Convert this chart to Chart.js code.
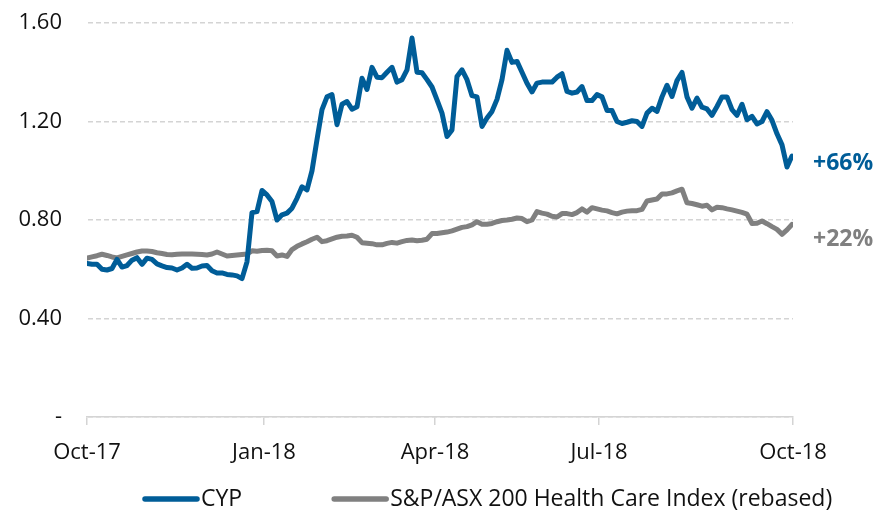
<!DOCTYPE html>
<html>
<head>
<meta charset="utf-8">
<script src="https://cdn.jsdelivr.net/npm/chart.js@4.4.1/dist/chart.umd.min.js"></script>
<style>
  html, body { margin: 0; padding: 0; background: #fff; }
  #wrap { width: 881px; height: 511px; position: relative; }
</style>
</head>
<body>
<div id="wrap"><canvas id="chart"></canvas></div>
<script>
// tick labels and where they sit on the sample index axis
const tickLabels = ["Oct-17", "Jan-18", "Apr-18", "Jul-18", "Oct-18"];
const tickIndex = [0, 35.4, 69.6, 102.4, 141.2];

// CYP share price
const cyp = [
  0.624, 0.62, 0.62, 0.60, 0.597, 0.603, 0.64, 0.609, 0.615, 0.637,
  0.647, 0.62, 0.645, 0.64, 0.622, 0.614, 0.607, 0.605, 0.597, 0.605,
  0.62, 0.604, 0.605, 0.613, 0.615, 0.594, 0.585, 0.585, 0.579, 0.577,
  0.573, 0.562, 0.63, 0.83, 0.834, 0.92, 0.902, 0.875, 0.80, 0.821,
  0.828, 0.848, 0.888, 0.935, 0.922, 1.0, 1.126, 1.248, 1.30, 1.309,
  1.187, 1.27, 1.281, 1.25, 1.26, 1.376, 1.33, 1.42, 1.38, 1.378,
  1.40, 1.42, 1.36, 1.37, 1.41, 1.539, 1.40, 1.398, 1.37, 1.34,
  1.288, 1.234, 1.139, 1.166, 1.383, 1.41, 1.37, 1.305, 1.30, 1.18,
  1.214, 1.241, 1.29, 1.37, 1.489, 1.44, 1.444, 1.40, 1.355, 1.32,
  1.356, 1.36, 1.36, 1.36, 1.38, 1.394, 1.322, 1.315, 1.32, 1.342,
  1.285, 1.285, 1.309, 1.30, 1.245, 1.245, 1.20, 1.192, 1.197, 1.203,
  1.20, 1.18, 1.234, 1.254, 1.241, 1.30, 1.347, 1.302, 1.366, 1.399,
  1.30, 1.254, 1.295, 1.258, 1.251, 1.225, 1.261, 1.30, 1.30, 1.248,
  1.225, 1.27, 1.207, 1.221, 1.19, 1.20, 1.24, 1.205, 1.15, 1.105,
  1.015, 1.06
];

// S&P/ASX 200 Health Care Index, rebased to CYP
const hcIndex = [
  0.645, 0.65, 0.655, 0.661, 0.656, 0.65, 0.646, 0.652, 0.658, 0.664,
  0.67, 0.674, 0.674, 0.672, 0.667, 0.664, 0.66, 0.659, 0.661, 0.662,
  0.662, 0.662, 0.661, 0.66, 0.658, 0.662, 0.67, 0.662, 0.654, 0.656,
  0.658, 0.66, 0.662, 0.675, 0.673, 0.676, 0.677, 0.675, 0.654, 0.658,
  0.652, 0.68, 0.693, 0.703, 0.712, 0.722, 0.73, 0.712, 0.716, 0.723,
  0.73, 0.734, 0.735, 0.738, 0.73, 0.708, 0.706, 0.704, 0.699, 0.699,
  0.705, 0.709, 0.706, 0.712, 0.717, 0.719, 0.716, 0.718, 0.722, 0.745,
  0.745, 0.748, 0.751, 0.756, 0.763, 0.77, 0.773, 0.78, 0.793, 0.783,
  0.783, 0.786, 0.793, 0.798, 0.80, 0.803, 0.808, 0.806, 0.793, 0.80,
  0.834, 0.828, 0.824, 0.815, 0.812, 0.826, 0.826, 0.822, 0.83, 0.845,
  0.832, 0.85, 0.845, 0.84, 0.837, 0.83, 0.825, 0.832, 0.836, 0.838,
  0.838, 0.843, 0.877, 0.881, 0.885, 0.906, 0.906, 0.91, 0.918, 0.925,
  0.87, 0.867, 0.862, 0.856, 0.86, 0.841, 0.852, 0.85, 0.845, 0.841,
  0.836, 0.831, 0.824, 0.786, 0.787, 0.796, 0.785, 0.773, 0.762, 0.742,
  0.76, 0.782
];

const endLabels = ["+66%", "+22%"];

const BLUE = "#005d98";
const GREY = "#808080";
const GRID = "#d4d4d4";
const TEXT = "#111";
const FONT = "'Open Sans', 'Noto Sans', sans-serif";

// "+66%" / "+22%" to the right of the line ends
const endLabelPlugin = {
  id: "endLabels",
  afterDatasetsDraw(chart) {
    const { ctx, chartArea, scales } = chart;
    const nudge = [7, 15];
    ctx.save();
    ctx.font = "bold 23px " + FONT;
    ctx.textBaseline = "middle";
    ctx.textAlign = "left";
    chart.data.datasets.forEach((ds, i) => {
      const last = ds.data[ds.data.length - 1];
      ctx.fillStyle = ds.borderColor;
      ctx.fillText(endLabels[i], chartArea.right + 20, scales.y.getPixelForValue(last) + nudge[i]);
    });
    ctx.restore();
  }
};

// legend drawn under the axis, line swatch + text
const legendPlugin = {
  id: "lineLegend",
  afterDraw(chart) {
    const { ctx, chartArea } = chart;
    ctx.save();
    ctx.font = "23px " + FONT;
    ctx.textBaseline = "middle";
    ctx.textAlign = "left";
    let x = chartArea.left + 56;
    const y = chart.height - 12;
    chart.data.datasets.forEach((ds) => {
      ctx.strokeStyle = ds.borderColor;
      ctx.lineWidth = 5.5;
      ctx.lineCap = "round";
      ctx.beginPath();
      ctx.moveTo(x + 2, y);
      ctx.lineTo(x + 54, y);
      ctx.stroke();
      ctx.fillStyle = TEXT;
      ctx.fillText(ds.label, x + 58, y);
      x += 58 + ctx.measureText(ds.label).width + 90;
    });
    ctx.restore();
  }
};

new Chart(document.getElementById("chart"), {
  type: "line",
  data: {
    labels: cyp.map((_, i) => i),
    datasets: [{
      label: "CYP",
      data: cyp,
      borderColor: BLUE,
      backgroundColor: BLUE,
      borderWidth: 5,
      pointRadius: 0,
      tension: 0,
      borderJoinStyle: "round",
      borderCapStyle: "round",
      fill: false
    }, {
      label: "S&P/ASX 200 Health Care Index (rebased)",
      data: hcIndex,
      borderColor: GREY,
      backgroundColor: GREY,
      borderWidth: 5,
      pointRadius: 0,
      tension: 0,
      borderJoinStyle: "round",
      borderCapStyle: "round",
      fill: false
    }]
  },
  options: {
    responsive: true,
    maintainAspectRatio: false,
    animation: false,
    layout: { padding: { top: 0, right: 88, bottom: 42, left: 0 } },
    plugins: {
      legend: { display: false },
      tooltip: { enabled: false }
    },
    scales: {
      x: {
        type: "linear",
        min: 0,
        max: tickIndex[tickIndex.length - 1],
        afterBuildTicks: (scale) => {
          scale.ticks = tickIndex.map((v) => ({ value: v }));
        },
        afterFit: (scale) => { scale.height = 52; },
        grid: { display: true, drawOnChartArea: false, color: GRID, tickLength: 8, lineWidth: 1.5 },
        border: { display: true, color: GRID, width: 1.5 },
        ticks: {
          autoSkip: false,
          maxRotation: 0,
          padding: 15,
          color: TEXT,
          font: { family: FONT, size: 22 },
          callback: (v, i) => tickLabels[i]
        }
      },
      y: {
        min: 0,
        max: 1.6,
        afterFit: (scale) => {
          scale.width = 87;
          // tick padding would otherwise push the plot top down
          scale.paddingTop = 23;
          scale.paddingBottom = 0;
        },
        grid: { color: GRID, lineWidth: 1.5, drawTicks: false },
        // dash only takes effect with the border shown, so keep it invisible
        border: { display: true, color: "rgba(0,0,0,0)", dash: [5, 3] },
        ticks: {
          stepSize: 0.4,
          padding: 25,
          color: TEXT,
          font: { family: FONT, size: 22 },
          callback: (v) => (v === 0 ? "-" : v.toFixed(2))
        }
      }
    }
  },
  plugins: [endLabelPlugin, legendPlugin]
});
</script>
</body>
</html>
